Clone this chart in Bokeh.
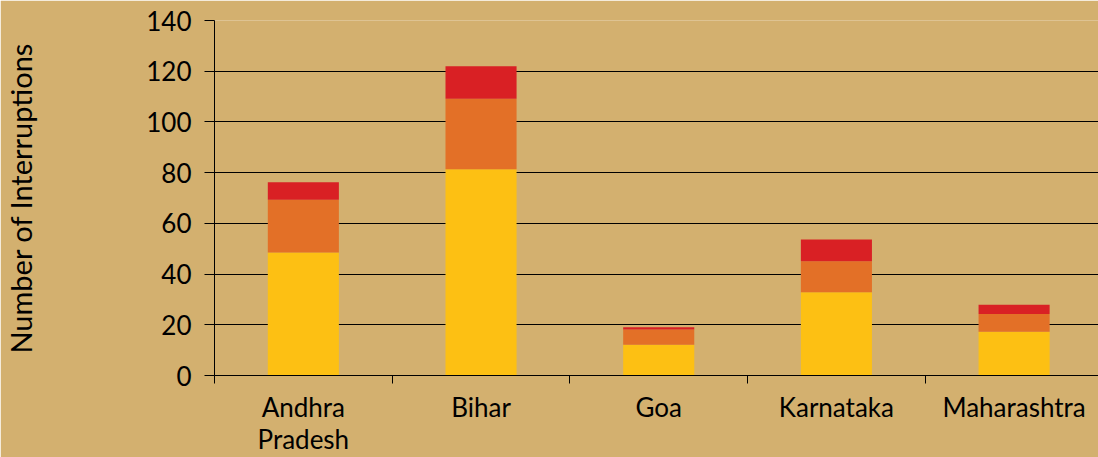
from bokeh.plotting import figure
from bokeh.models import Range1d, FixedTicker, ColumnDataSource
from bokeh.embed import file_html
from bokeh.resources import INLINE

states = ["Andhra\nPradesh", "Bihar", "Goa", "Karnataka", "Maharashtra"]
series_names = ["Series 1", "Series 2", "Series 3"]
series1 = [48.5, 81.3, 12.1, 32.8, 17.3]
series2 = [20.8, 27.8, 6.0, 12.3, 7.0]
series3 = [6.9, 12.9, 0.9, 8.5, 3.6]
y_ticks = [0, 20, 40, 60, 80, 100, 120, 140]
y_title = "Number of Interruptions"

colors = ["#FDC013", "#E37027", "#D92024"]
bg = "#D3B06F"
FONT = "Lato"

xs = [i + 0.5 for i in range(len(states))]
source = ColumnDataSource(dict(x=xs, s1=series1, s2=series2, s3=series3))

p = figure(width=1098, height=457, output_backend="svg", toolbar_location=None,
           x_range=Range1d(0, 4.975), y_range=Range1d(0, 140),
           min_border_left=209, min_border_right=0, min_border_top=20,
           min_border_bottom=82)
p.background_fill_color = bg
p.border_fill_color = bg
p.outline_line_color = None

p.vbar_stack(["s1", "s2", "s3"], x="x", width=0.40, color=colors,
             line_color=None, source=source)

# y axis
p.yaxis.ticker = FixedTicker(ticks=y_ticks, minor_ticks=[])
p.yaxis.axis_line_color = "black"
p.yaxis.major_tick_line_color = "black"
p.yaxis.major_tick_out = 10
p.yaxis.major_tick_in = 0
p.yaxis.minor_tick_line_color = None
p.yaxis.major_label_text_font = FONT
p.yaxis.major_label_text_font_size = "26px"
p.yaxis.major_label_text_color = "black"
p.yaxis.major_label_standoff = 13
p.yaxis.axis_label = y_title
p.yaxis.axis_label_text_font = FONT
p.yaxis.axis_label_text_font_size = "29px"
p.yaxis.axis_label_text_font_style = "normal"
p.yaxis.axis_label_text_color = "black"
p.yaxis.axis_label_standoff = 105

# x axis
p.xaxis.ticker = FixedTicker(ticks=xs, minor_ticks=[0, 1, 2, 3, 4, 5])
p.xaxis.major_label_overrides = {x: s for x, s in zip(xs, states)}
p.xaxis.axis_line_color = "black"
p.xaxis.major_tick_line_color = None
p.xaxis.major_tick_out = 0
p.xaxis.major_tick_in = 0
p.xaxis.minor_tick_line_color = "black"
p.xaxis.minor_tick_out = 8
p.xaxis.minor_tick_in = 0
p.xaxis.major_label_text_font = FONT
p.xaxis.major_label_text_font_size = "26px"
p.xaxis.major_label_text_line_height = 1.0
p.xaxis.major_label_text_color = "black"
p.xaxis.major_label_standoff = 7

p.xgrid.grid_line_color = None
p.ygrid.grid_line_color = "black"
p.ygrid.grid_line_width = 1

open("out.html", "w").write(file_html(p, INLINE))
